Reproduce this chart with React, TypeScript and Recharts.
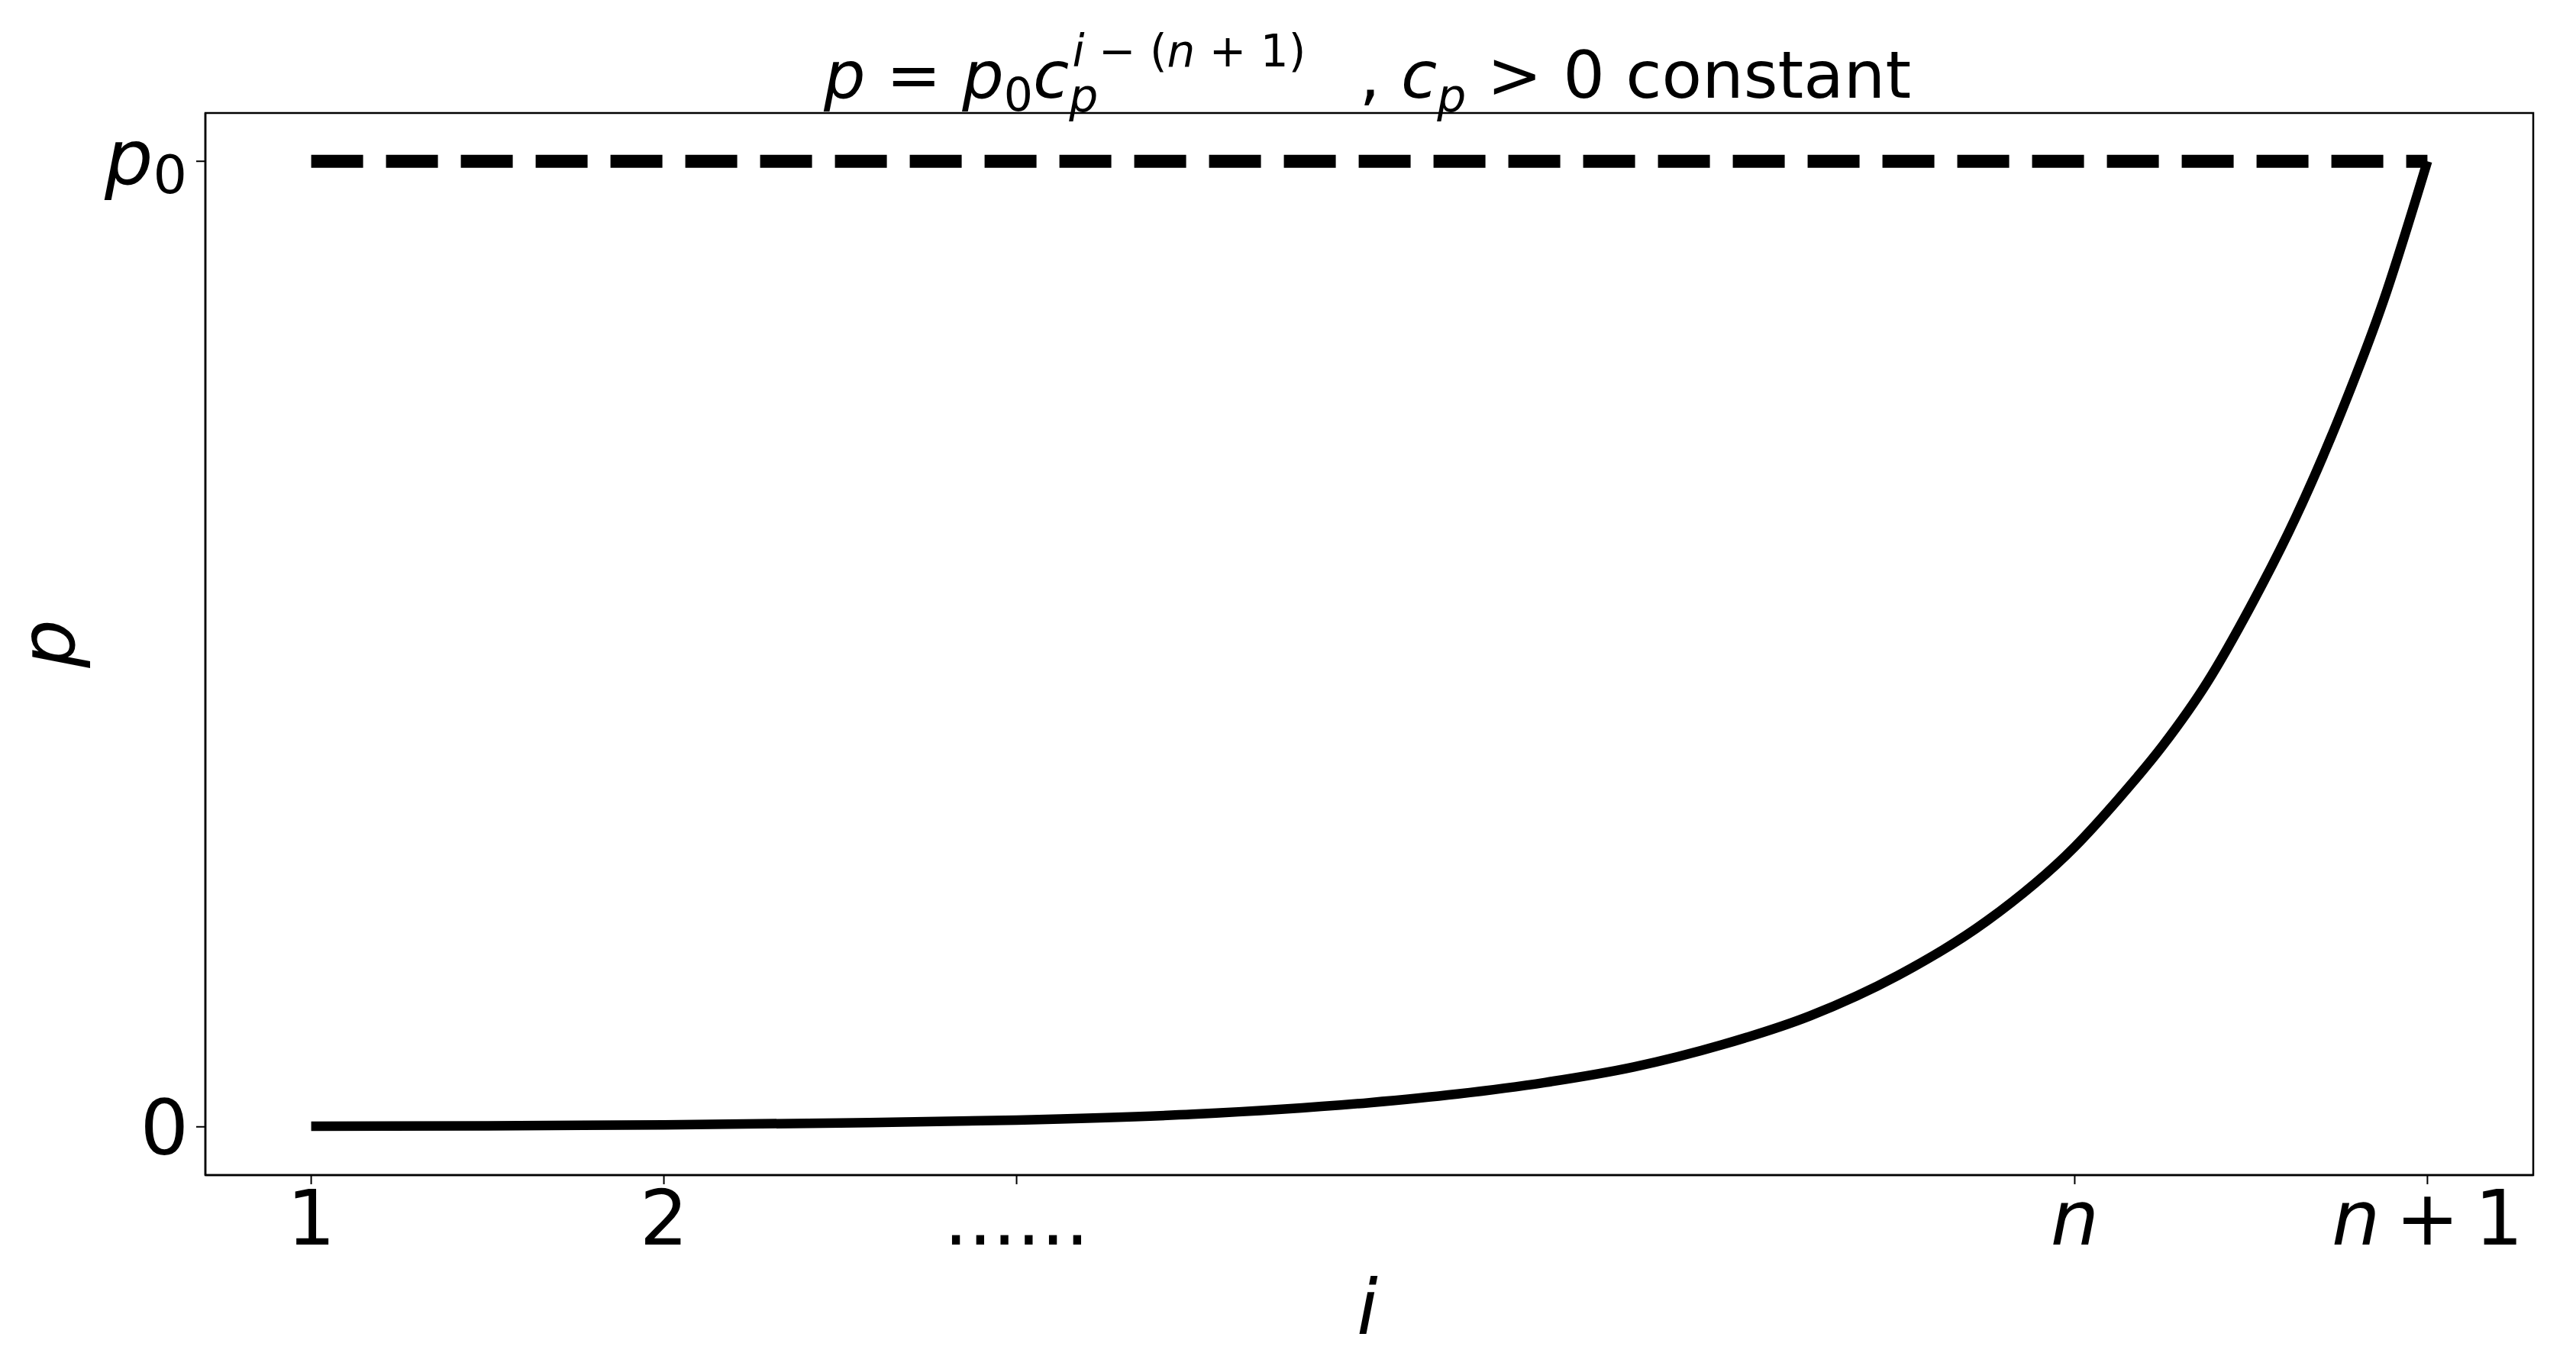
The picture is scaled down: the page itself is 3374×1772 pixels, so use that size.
import { LineChart, Line, XAxis, YAxis, ReferenceArea } from 'recharts';

const iValues = [1, 1.5, 2, 2.5, 3, 3.5, 4, 4.25, 4.5, 4.75, 5, 5.25, 5.5, 5.75, 6, 6.125, 6.25, 6.375, 6.5, 6.625, 6.75, 6.875, 7];
const pValues = [0.0006, 0.001, 0.002, 0.004, 0.007, 0.013, 0.025, 0.034, 0.046, 0.062, 0.085, 0.115, 0.157, 0.213, 0.29, 0.34, 0.395, 0.46, 0.54, 0.63, 0.735, 0.855, 1.0];

// p0 reference level (dashed)
const p0Range = [1, 7];
const p0Values = [1, 1];

const xTicks = [1, 2, 3, 6, 7];
const xTickLabels = ['1', '2', '......', 'n', 'n+1'];
const yTicks = [0, 1];
const yTickLabels = ['0', 'p0'];

const curveData = iValues.map((i, k) => ({ i, p: pValues[k] }));
const dashData = p0Range.map((i, k) => ({ i, p: p0Values[k] }));

const FONT = '"DejaVu Sans", sans-serif';
const W = 3374;
const H = 1772;

const renderXTick = (props: any) => {
  const { x, y, payload } = props;
  const label = xTickLabels[xTicks.indexOf(payload.value)] ?? '';
  let content: any = label;
  if (label === 'n') content = <tspan fontStyle="italic">n</tspan>;
  if (label === 'n+1')
    content = (
      <>
        <tspan fontStyle="italic">n</tspan>
        <tspan dx={20}>+</tspan>
        <tspan dx={20}>1</tspan>
      </>
    );
  return (
    <text x={x} y={y + 77} textAnchor="middle" fontSize={100} fontFamily={FONT} fill="#000">
      {content}
    </text>
  );
};

const renderYTick = (props: any) => {
  const { x, y, payload } = props;
  const label = yTickLabels[yTicks.indexOf(payload.value)] ?? '';
  if (label === 'p0') {
    return (
      <text x={x - 10} y={y + 30} textAnchor="end" fontSize={100} fontFamily={FONT} fill="#000">
        <tspan fontStyle="italic">p</tspan>
        <tspan fontSize={70} dy={12}>0</tspan>
      </text>
    );
  }
  return (
    <text x={x - 8} y={y + 36} textAnchor="end" fontSize={100} fontFamily={FONT} fill="#000">
      {label}
    </text>
  );
};

export default function App() {
  return (
    <div style={{ position: 'absolute', left: 0, top: 0, width: W, height: H, background: '#fff' }}>
      <LineChart
        width={W}
        height={H}
        data={curveData}
        margin={{ top: 148, right: 56, left: 0, bottom: 0 }}
      >
        <XAxis
          dataKey="i"
          type="number"
          domain={[0.7, 7.3]}
          ticks={xTicks}
          allowDataOverflow
          height={233}
          tick={renderXTick}
          tickSize={12}
          tickLine={{ stroke: '#000', strokeWidth: 2 }}
          axisLine={{ stroke: '#000', strokeWidth: 2.5 }}
        />
        <YAxis
          type="number"
          domain={[-0.05, 1.05]}
          ticks={yTicks}
          allowDataOverflow
          width={269}
          tick={renderYTick}
          tickSize={12}
          tickLine={{ stroke: '#000', strokeWidth: 2 }}
          axisLine={{ stroke: '#000', strokeWidth: 2.5 }}
        />
        <ReferenceArea
          x1={0.7}
          x2={7.3}
          y1={-0.05}
          y2={1.05}
          fill="none"
          stroke="#000"
          strokeWidth={2.5}
          ifOverflow="visible"
        />
        <Line
          data={dashData}
          dataKey="p"
          type="linear"
          stroke="#000"
          strokeWidth={17}
          strokeDasharray="68 30"
          dot={false}
          activeDot={false}
          isAnimationActive={false}
        />
        <Line
          dataKey="p"
          type="monotone"
          stroke="#000"
          strokeWidth={12.5}
          dot={false}
          activeDot={false}
          isAnimationActive={false}
        />
        <text x={1791} y={128} textAnchor="middle" fontSize={86} fontFamily={FONT} fill="#000">
          <tspan fontStyle="italic">p</tspan>
          <tspan> = </tspan>
          <tspan fontStyle="italic">p</tspan>
          <tspan fontSize={60} dy={17}>0</tspan>
          <tspan fontStyle="italic" dy={-17}>c</tspan>
          <tspan fontSize={60} fontStyle="italic" dy={19}>p</tspan>
          <tspan fontSize={58} fontStyle="italic" dx={-34} dy={-60}>i</tspan>
          <tspan fontSize={58}> − (</tspan>
          <tspan fontSize={58} fontStyle="italic">n</tspan>
          <tspan fontSize={58}> + 1)</tspan>
          <tspan dx={70} dy={41}>, </tspan>
          <tspan fontStyle="italic">c</tspan>
          <tspan fontSize={60} fontStyle="italic" dy={19}>p</tspan>
          <tspan dy={-19}> &gt; 0 constant</tspan>
        </text>
        <text x={1791} y={1747} textAnchor="middle" fontSize={100} fontStyle="italic" fontFamily={FONT} fill="#000">
          i
        </text>
        <text
          x={97}
          y={843}
          textAnchor="middle"
          fontSize={100}
          fontStyle="italic"
          fontFamily={FONT}
          fill="#000"
          transform="rotate(-90 97 843)"
        >
          p
        </text>
      </LineChart>
    </div>
  );
}
